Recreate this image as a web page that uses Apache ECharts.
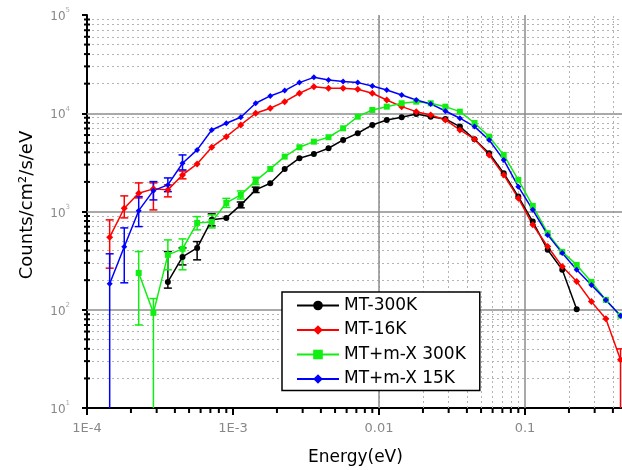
<!DOCTYPE html>
<html><head><meta charset="utf-8">
<script src="https://cdn.jsdelivr.net/npm/echarts@6/dist/echarts.min.js"></script>
<style>html,body{margin:0;padding:0;overflow:hidden;background:#fff}#c{width:680px;height:470px}</style>
</head><body><div id="c"></div>
<script>
// Energy grid (eV)
const energy = [1.43e-4, 1.80e-4, 2.26e-4, 2.85e-4, 3.58e-4, 4.51e-4, 5.68e-4, 7.15e-4, 9.0e-4,
  1.13e-3, 1.43e-3, 1.80e-3, 2.26e-3, 2.85e-3, 3.58e-3, 4.51e-3, 5.68e-3, 7.15e-3, 9.0e-3,
  1.13e-2, 1.43e-2, 1.80e-2, 2.26e-2, 2.85e-2, 3.58e-2, 4.51e-2, 5.68e-2, 7.15e-2, 9.0e-2,
  0.113, 0.143, 0.180, 0.226, 0.285, 0.358, 0.451];
const seriesNames = ['MT-300K', 'MT-16K', 'MT+m-X 300K', 'MT+m-X 15K'];
const mt300 = [null, null, null, null, 192, 345, 426, 822, 861, 1167, 1660, 1941, 2712, 3485, 3855, 4405,
  5350, 6260, 7600, 8550, 9100, 9840, 9230, 8750, 7310, 5440, 3920, 2455, 1418, 789, 407, 255, 101, null, null, null];
const mt16 = [548, 1080, 1535, 1700, 1660, 2356, 3050, 4510, 5780, 7600, 10000, 11240, 13120, 15970, 18650, 17960,
  17960, 17540, 15970, 13650, 11670, 10380, 9610, 8550, 6760, 5440, 3765, 2356, 1365, 731, 440, 275, 194, 121, 81, 31];
const mtmx300 = [null, null, 237, 93, 362, 417, 766, 784, 1222, 1475, 2048, 2712, 3620, 4510, 5140, 5700,
  7030, 9230, 10800, 11670, 12640, 13120, 12640, 11670, 10380, 7960, 5780, 3765, 2096, 1140, 601, 388, 286, 192, 126, 87];
const mtmx15 = [184, 437, 1020, 1630, 1866, 3100, 4235, 6760, 7910, 9100, 12640, 15000, 17000, 20500, 23200, 21800,
  21000, 20500, 18950, 17260, 15360, 13650, 12440, 10550, 8900, 7310, 5350, 3350, 1790, 1040, 578, 377, 255, 179, 126, 87];
// error bars: [energy index, low, high]
const errMt300 = [[4, 166, 391], [5, 286, 426], [6, 322, 494], [7, 714, 946], [9, 1090, 1250], [10, 1560, 1770]];
const errMt16 = [[0, 265, 822], [1, 861, 1442], [2, 1375, 1954], [3, 1038, 1954], [4, 1409, 1866], [5, 2150, 2580], [35, 1, 40]];
const errMtmx300 = [[2, 70, 391], [3, 1, 130], [4, 255, 514], [5, 255, 526], [6, 650, 887], [7, 681, 923], [8, 1100, 1360], [9, 1340, 1620], [10, 1880, 2230]];
const errMtmx15 = [[0, 1, 371], [1, 188, 681], [2, 702, 1418], [3, 1312, 2015], [4, 1593, 2197], [5, 2650, 3765]];
// tick labels
const xTickLabels = {'-4': '1E-4', '-3': '1E-3', '-2': '0.01', '-1': '0.1', '0': '1'};
const xDecades = [-4, -3, -2, -1];
const yDecades = [1, 2, 3, 4];
const xMajor = [1e-3, 1e-2, 1e-1];
const yMajor = [100, 1000, 10000];

const colors = ['#000000', '#ff0000', '#11ee11', '#0000ff'];
const symbols = ['circle', 'diamond', 'rect', 'diamond'];
const symSizes = [6, 7, 6, 6];
const allData = [mt300, mt16, mtmx300, mtmx15];
const allErr = [errMt300, errMt16, errMtmx300, errMtmx15];

const minorX = [], minorY = [];
xDecades.forEach(d => { for (let m = 2; m <= 9; m++) minorX.push(+(m * Math.pow(10, d)).toPrecision(3)); });
yDecades.forEach(d => { for (let m = 2; m <= 9; m++) minorY.push(+(m * Math.pow(10, d)).toPrecision(3)); });

const chart = echarts.init(document.getElementById('c'), null, {renderer: 'canvas'});
const series = [];
// minor grid (dotted)
series.push({
  type: 'line', data: [], z: 1, silent: true,
  markLine: {
    z: 1, silent: true, symbol: ['none', 'none'], label: {show: false}, animation: false,
    lineStyle: {color: '#b4b4b4', type: [2, 3], width: 1},
    emphasis: {disabled: true},
    data: minorX.map(v => ({xAxis: v})).concat(minorY.map(v => ({yAxis: v})))
  }
});
// major grid (solid)
series.push({
  type: 'line', data: [], z: 1, silent: true,
  markLine: {
    z: 1, silent: true, symbol: ['none', 'none'], label: {show: false}, animation: false,
    lineStyle: {color: '#8c8c8c', type: 'solid', width: 1.5},
    emphasis: {disabled: true},
    data: xMajor.map(v => ({xAxis: v})).concat(yMajor.map(v => ({yAxis: v})))
  }
});
// minor ticks
series.push({
  type: 'custom', z: 5, silent: true, clip: false,
  data: minorX.map(v => [v, 10, 0]).concat(minorY.map(v => [1e-4, v, 1])),
  renderItem: (params, api) => {
    const p = api.coord([api.value(0), api.value(1)]);
    const isX = api.value(2) === 0;
    return {type: 'line', shape: isX ? {x1: p[0], y1: p[1], x2: p[0], y2: p[1] + 5} : {x1: p[0] - 3, y1: p[1], x2: p[0] + 3, y2: p[1]},
      style: {stroke: '#000', lineWidth: 2}};
  }
});
allData.forEach((arr, si) => {
  const color = colors[si];
  series.push({
    type: 'custom', z: 3, clip: true, silent: true,
    data: allErr[si].map(([i, lo, hi]) => [energy[i], lo, hi]),
    encode: {x: 0, y: [1, 2]},
    renderItem: (params, api) => {
      const x = api.value(0);
      const lo = api.coord([x, api.value(1)]);
      const hi = api.coord([x, api.value(2)]);
      const w = 4, style = {stroke: color, lineWidth: 1.5};
      return {type: 'group', children: [
        {type: 'line', shape: {x1: lo[0], y1: lo[1], x2: hi[0], y2: hi[1]}, style},
        {type: 'line', shape: {x1: lo[0] - w, y1: lo[1], x2: lo[0] + w, y2: lo[1]}, style},
        {type: 'line', shape: {x1: hi[0] - w, y1: hi[1], x2: hi[0] + w, y2: hi[1]}, style}
      ]};
    }
  });
  series.push({
    name: seriesNames[si], type: 'line', z: 4,
    data: energy.map((e, i) => arr[i] == null ? null : [e, arr[i]]).filter(d => d),
    symbol: symbols[si], symbolSize: symSizes[si], showSymbol: true,
    itemStyle: {color}, lineStyle: {color, width: 1.5},
    emphasis: {disabled: true}, animation: false
  });
});

chart.setOption({
  animation: false,
  backgroundColor: '#fff',
  grid: {left: 87, top: 15, width: 584, bottom: 62, containLabel: false},
  xAxis: {
    type: 'log', logBase: 10, min: 1e-4, max: 1,
    axisLine: {lineStyle: {color: '#000', width: 2}},
    axisTick: {show: true, length: 7, lineStyle: {color: '#000', width: 2}},
    axisLabel: {color: '#888', fontFamily: 'DejaVu Sans', fontSize: 13, margin: 14,
      formatter: v => xTickLabels[String(Math.round(Math.log10(v)))] || ''},
    splitLine: {show: false}
  },
  yAxis: {
    type: 'log', logBase: 10, min: 10, max: 100000,
    axisLine: {lineStyle: {color: '#000', width: 2}},
    axisTick: {show: true, length: 5, lineStyle: {color: '#000', width: 2}},
    axisLabel: {margin: 17, formatter: v => '{b|10}{s|' + Math.round(Math.log10(v)) + '}',
      rich: {b: {fontSize: 12, color: '#888', fontFamily: 'DejaVu Sans', lineHeight: 16, verticalAlign: 'bottom'},
             s: {fontSize: 7, color: '#aaa', fontFamily: 'DejaVu Sans', lineHeight: 16, verticalAlign: 'top'}}},
    splitLine: {show: false}
  },
  legend: {
    z: 10, data: seriesNames, orient: 'vertical', left: 282, top: 292,
    backgroundColor: '#fff', borderColor: '#000', borderWidth: 1.5, borderRadius: 0,
    padding: [5, 14, 3, 14], itemWidth: 42, itemHeight: 12, itemGap: 7.5,
    textStyle: {color: '#000', fontSize: 17, fontFamily: 'DejaVu Sans', lineHeight: 16},
    selectedMode: false
  },
  graphic: [
    {type: 'text', left: 308, top: 449, style: {text: 'Energy(eV)', fill: '#000', font: '17px "DejaVu Sans"'}},
    {type: 'text', x: 27, y: 205, rotation: Math.PI / 2,
      style: {text: 'Counts/cm²/s/eV', fill: '#000', font: '18px "DejaVu Sans"', textAlign: 'center', textVerticalAlign: 'middle'}}
  ],
  series
});
</script></body></html>
